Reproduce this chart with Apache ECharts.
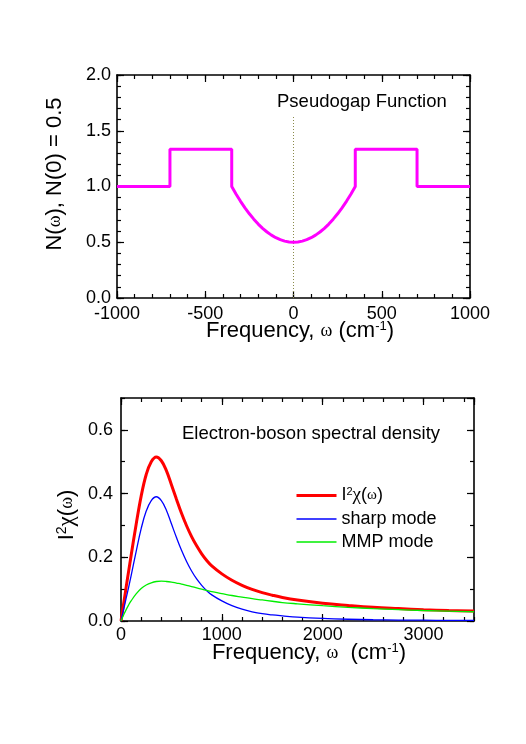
<!DOCTYPE html>
<html>
<head>
<meta charset="utf-8">
<script src="https://cdn.jsdelivr.net/npm/echarts@6/dist/echarts.min.js"></script>
<style>
html,body{margin:0;padding:0;background:#fff;}
#c{width:526px;height:744px;}
</style>
</head>
<body>
<div id="c"></div>
<script>
// ---- Top panel: pseudogap function ----
var pgFreq = [-1000,-700,-700,-350,-350,-325,-300,-275,-250,-225,-200,-175,-150,-125,-100,-75,-50,-25,0,25,50,75,100,125,150,175,200,225,250,275,300,325,350,350,700,700,1000];
var pgN    = [1,1,1.333,1.333,1,0.931,0.867,0.809,0.755,0.707,0.663,0.625,0.592,0.564,0.541,0.523,0.510,0.503,0.5,0.503,0.510,0.523,0.541,0.564,0.592,0.625,0.663,0.707,0.755,0.809,0.867,0.931,1,1.333,1.333,1,1];
var markFreq = [0, 0];
var markN = [0, 1.63];
var topXTicks = [-1000, 1000, 500, 100];   // min, max, major, minor
var topYTicks = [0, 2, 0.5, 0.1];

// ---- Bottom panel: electron-boson spectral density ----
var freq  = [0,25,50,75,100,150,200,250,300,350,400,450,500,550,600,650,700,750,800,850,900,1000,1100,1200,1300,1400,1500,1600,1750,2000,2250,2500,2750,3000,3250,3500];
var sharp = [0,0.035,0.07,0.105,0.142,0.218,0.29,0.345,0.378,0.39,0.378,0.348,0.305,0.262,0.222,0.187,0.157,0.132,0.112,0.095,0.082,0.063,0.048,0.037,0.029,0.023,0.019,0.016,0.012,0.008,0.0055,0.004,0.003,0.0025,0.002,0.0018];
var mmp   = [0,0.018,0.035,0.05,0.063,0.085,0.102,0.113,0.12,0.124,0.125,0.124,0.122,0.119,0.116,0.112,0.108,0.104,0.1,0.096,0.092,0.086,0.08,0.075,0.07,0.066,0.062,0.058,0.054,0.048,0.043,0.039,0.036,0.033,0.031,0.029];
var total = [0,0.052,0.104,0.155,0.205,0.303,0.392,0.46,0.5,0.515,0.503,0.472,0.428,0.382,0.338,0.299,0.265,0.236,0.211,0.19,0.173,0.148,0.128,0.112,0.099,0.089,0.081,0.074,0.066,0.056,0.049,0.043,0.039,0.0355,0.033,0.031];
var botXTicks = [0, 3500, 1000, 200];
var botYTicks = [0, 0.7, 0.2, 0.1];
var seriesNames = ['I²χ(ω)', 'sharp mode', 'MMP mode'];
var seriesColors = ['#ff0000', '#0000ff', '#00ee00'];
var seriesWidths = [3, 1.3, 1.3];

function pairs(xs, ys){ return xs.map(function(x,i){ return [x, ys[i]]; }); }

var FONT = 'Liberation Sans';
function axis(grid, pos, t, major, labels, margin, showLine){
  var len = major ? 7 : 4;
  return {
    type:'value', gridIndex:grid, position:pos,
    min:t[0], max:t[1], interval: major ? t[2] : t[3],
    splitLine:{show:false},
    axisLine:{show:showLine, onZero:false, lineStyle:{color:'#000', width:1.6}},
    axisTick:{show:true, inside:true, length:len, lineStyle:{color:'#000', width:1.2}},
    axisLabel:{show:labels, color:'#000', fontSize:18, fontFamily:FONT, margin:margin,
      showMaxLabel: labels ? (t[1] % t[2] === 0) : false,
      formatter: (pos==='left') ? function(v){ return v.toFixed(1); } : function(v){ return String(v); }}
  };
}

var xAxes = [
  axis(0,'bottom',topXTicks,true,true,7,true),
  axis(0,'bottom',topXTicks,false,false,0,false),
  axis(0,'top',topXTicks,true,false,0,true),
  axis(0,'top',topXTicks,false,false,0,false),
  axis(1,'bottom',botXTicks,true,true,5,true),
  axis(1,'bottom',botXTicks,false,false,0,false),
  axis(1,'top',botXTicks,true,false,0,true),
  axis(1,'top',botXTicks,false,false,0,false)
];
var yAxes = [
  axis(0,'left',topYTicks,true,true,6,true),
  axis(0,'left',topYTicks,false,false,0,false),
  axis(0,'right',topYTicks,true,false,0,true),
  axis(0,'right',topYTicks,false,false,0,false),
  axis(1,'left',botYTicks,true,true,8,true),
  axis(1,'left',botYTicks,false,false,0,false),
  axis(1,'right',botYTicks,true,false,0,true),
  axis(1,'right',botYTicks,false,false,0,false)
];

function makeRich(base, w, sup, chi){
  return {
    n:{fontSize:base, fontFamily:FONT, color:'#000'},
    w:{fontSize:w, fontFamily:'Liberation Serif', color:'#000'},
    c:{fontSize:chi, fontFamily:'Liberation Serif', color:'#000'},
    s:{fontSize:sup, fontFamily:FONT, color:'#000', verticalAlign:'top'}
  };
}
var richX = makeRich(22, 18, 13, 23);
var richY = makeRich(22, 18, 14, 23);
var legRich = makeRich(18, 15, 11, 19);

var chart = echarts.init(document.getElementById('c'), null, {renderer:'canvas', width:526, height:744});
chart.setOption({
  animation:false,
  backgroundColor:'#fff',
  grid:[
    {left:117, top:75, width:353, height:223},
    {left:121, top:398, width:353, height:223}
  ],
  xAxis:xAxes,
  yAxis:yAxes,
  legend:{
    left:290, top:481, orient:'vertical', itemWidth:40, itemHeight:14, itemGap:5,
    data:seriesNames.map(function(n,i){ return {name:n, lineStyle:{width:seriesWidths[i], color:seriesColors[i]}}; }),
    itemStyle:{opacity:0},
    textStyle:{fontSize:18, fontFamily:FONT, color:'#000', rich:legRich},
    formatter:function(name){ return name===seriesNames[0] ? '{n|I}{s|2}{c|χ}{n|(}{w|ω}{n|)}' : name; }
  },
  graphic:[
    {type:'text', x:277, y:102, style:{text:'Pseudogap Function', font:'18.5px "Liberation Sans"', fill:'#000', verticalAlign:'middle'}},
    {type:'text', x:182, y:434, style:{text:'Electron-boson spectral density', font:'18.5px "Liberation Sans"', fill:'#000', verticalAlign:'middle'}},
    {type:'text', x:300, y:331, style:{text:'{n|Frequency, }{w|ω}{n| (cm}{s|-1}{n|)}', rich:richX, align:'center', verticalAlign:'middle'}},
    {type:'text', x:309, y:653, style:{text:'{n|Frequency, }{w|ω}{n|  (cm}{s|-1}{n|)}', rich:richX, align:'center', verticalAlign:'middle'}},
    {type:'text', x:55, y:174, rotation:Math.PI/2, style:{text:'{n|N(}{w|ω}{n|), N(0) = 0.5}', rich:richY, align:'center', verticalAlign:'middle'}},
    {type:'text', x:67, y:515, rotation:Math.PI/2, style:{text:'{n|I}{s|2}{c|χ}{n|(}{w|ω}{n|)}', rich:richY, align:'center', verticalAlign:'middle'}}
  ],
  series:[
    {type:'line', xAxisIndex:0, yAxisIndex:0, data:pairs(markFreq, markN), symbol:'none',
      lineStyle:{color:'#8a8a4a', width:1, type:[1,2]}, silent:true},
    {type:'line', name:'pg', xAxisIndex:0, yAxisIndex:0, data:pairs(pgFreq, pgN), symbol:'none',
      lineStyle:{color:'#ff00ff', width:3}},
    {type:'line', name:seriesNames[0], xAxisIndex:4, yAxisIndex:4, data:pairs(freq, total), symbol:'none', smooth:0.4,
      lineStyle:{color:seriesColors[0], width:seriesWidths[0]}, itemStyle:{color:seriesColors[0]}},
    {type:'line', name:seriesNames[1], xAxisIndex:4, yAxisIndex:4, data:pairs(freq, sharp), symbol:'none', smooth:0.4,
      lineStyle:{color:seriesColors[1], width:seriesWidths[1]}, itemStyle:{color:seriesColors[1]}},
    {type:'line', name:seriesNames[2], xAxisIndex:4, yAxisIndex:4, data:pairs(freq, mmp), symbol:'none', smooth:0.4,
      lineStyle:{color:seriesColors[2], width:seriesWidths[2]}, itemStyle:{color:seriesColors[2]}}
  ]
});
</script>
</body>
</html>
